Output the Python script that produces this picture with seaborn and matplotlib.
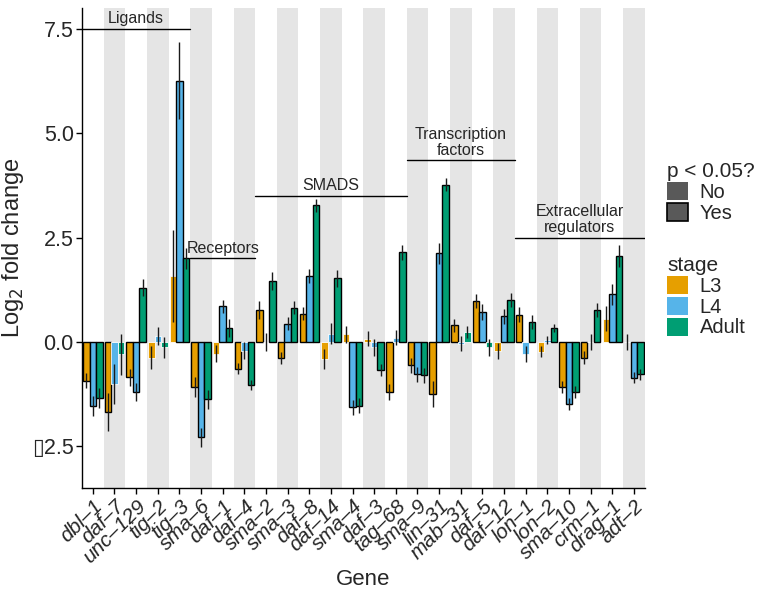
"""
Log2 fold change of TGF-beta pathway genes by stage
"""
from matplotlib import pyplot as plt
from matplotlib.patches import Patch
import pandas as pd
import numpy as np
import seaborn as sns

genes = ['dbl-1', 'daf-7', 'unc-129', 'tig-2', 'tig-3', 'sma-6', 'daf-1', 'daf-4',
         'sma-2', 'sma-3', 'daf-8', 'daf-14', 'sma-4', 'daf-3', 'tag-68', 'sma-9',
         'lin-31', 'mab-31', 'daf-5', 'daf-12', 'lon-1', 'lon-2', 'sma-10', 'crm-1',
         'drag-1', 'adt-2']
gene_labels = [g.replace('-', '\u2013') for g in genes]
stages = ['L3', 'L4', 'Adult']

l3_lfc = [-0.93, -1.68, -0.85, -0.38, 1.57, -1.08, -0.28, -0.64, 0.76, -0.38, 0.68, -0.42, 0.18,
          0.08, -1.20, -0.56, -1.25, 0.40, 0.98, -0.21, 0.65, -0.24, -1.08, -0.38, 0.56, 0.0]
l3_se = [0.18, 0.45, 0.20, 0.27, 1.10, 0.24, 0.20, 0.13, 0.21, 0.14, 0.16, 0.24, 0.20,
         0.17, 0.19, 0.18, 0.31, 0.16, 0.17, 0.19, 0.18, 0.13, 0.14, 0.16, 0.30, 0.20]
l3_sig = [1, 1, 1, 0, 0, 1, 0, 1, 1, 1, 1, 0, 0, 0, 1, 1, 1, 1, 1, 0, 1, 0, 1, 1, 0, 0]

l4_lfc = [-1.53, -1.01, -1.20, 0.14, 6.26, -2.29, 0.85, -0.21, 0.0, 0.44, 1.58, 0.20, -1.57,
          -0.13, 0.10, -0.77, 2.12, -0.05, 0.72, 0.61, -0.29, 0.05, -1.49, 0.0, 1.14, -0.86]
l4_se = [0.24, 0.48, 0.22, 0.22, 0.92, 0.23, 0.16, 0.20, 0.22, 0.15, 0.16, 0.25, 0.18,
         0.20, 0.18, 0.18, 0.25, 0.18, 0.19, 0.18, 0.20, 0.10, 0.14, 0.20, 0.25, 0.13]
l4_sig = [1, 0, 1, 0, 1, 1, 1, 0, 0, 1, 1, 0, 1, 0, 0, 1, 1, 0, 1, 1, 0, 0, 1, 0, 1, 1]

adult_lfc = [-1.34, -0.30, 1.30, -0.13, 2.00, -1.38, 0.34, -1.04, 1.46, 0.82, 3.27, 1.52, -1.53,
             -0.68, 2.15, -0.80, 3.77, 0.24, -0.13, 1.00, 0.48, 0.33, -1.20, 0.76, 2.05, -0.78]
adult_se = [0.24, 0.50, 0.21, 0.25, 0.26, 0.22, 0.22, 0.12, 0.22, 0.16, 0.15, 0.20, 0.18,
            0.14, 0.18, 0.18, 0.16, 0.14, 0.20, 0.17, 0.16, 0.10, 0.14, 0.17, 0.26, 0.14]
adult_sig = [1, 0, 1, 0, 1, 1, 1, 1, 1, 1, 1, 1, 1, 1, 1, 1, 1, 0, 0, 1, 1, 1, 1, 1, 1, 1]

# gene groups: label, first gene, last gene, line height
groups = [('Ligands', 'dbl-1', 'tig-3', 7.5),
          ('Receptors', 'sma-6', 'daf-4', 2.0),
          ('SMADS', 'sma-2', 'tag-68', 3.5),
          ('Transcription\nfactors', 'sma-9', 'daf-12', 4.35),
          ('Extracellular\nregulators', 'lon-1', 'adt-2', 2.5)]

palette = {'L3': '#E69F00', 'L4': '#56B4E9', 'Adult': '#009E73'}

df = pd.DataFrame({
    'gene': genes * 3,
    'stage': np.repeat(stages, len(genes)),
    'lfc': l3_lfc + l4_lfc + adult_lfc,
    'se': l3_se + l4_se + adult_se,
    'sig': l3_sig + l4_sig + adult_sig,
})

sns.set_style('ticks')
plt.rcParams['font.family'] = ['Liberation Sans', 'DejaVu Sans']

fig = plt.figure(figsize=(7.63, 5.94), dpi=100)
ax = fig.add_axes([0.1075, 0.1785, 0.7375, 0.808])

# alternating grey stripes
for i in range(len(genes)):
    if i % 2 == 1:
        ax.axvspan(i - 0.5, i + 0.5, color='#E5E5E5', lw=0, zorder=0)

sns.barplot(data=df, x='gene', y='lfc', hue='stage', hue_order=stages, order=genes,
            palette=palette, saturation=1, width=0.9, errorbar=None, legend=False, ax=ax)

for cont, st in zip(ax.containers, stages):
    sub = df[df['stage'] == st].set_index('gene').loc[genes]
    xs = []
    for bar, sig in zip(cont, sub['sig']):
        if sig:
            bar.set_edgecolor('black')
            bar.set_linewidth(1.0)
        else:
            bar.set_edgecolor('white')
            bar.set_linewidth(0.6)
        bar.set_zorder(2)
        xs.append(bar.get_x() + bar.get_width() / 2)
    xs = np.array(xs)
    ax.vlines(xs, sub['lfc'] - sub['se'], sub['lfc'] + sub['se'],
              color='#1a1a1a', lw=1.0, zorder=3)

# group annotations
for label, g0, g1, h in groups:
    x0 = genes.index(g0) - 0.5
    x1 = genes.index(g1) + 0.5
    ax.plot([x0, x1], [h, h], color='black', lw=1.0, zorder=4)
    ax.text((x0 + x1) / 2, h + 0.06, label, ha='center', va='bottom',
            fontsize=11.5, linespacing=1.1, zorder=4)

ax.set_xlim(-0.5, len(genes) - 0.5)
ax.set_ylim(-3.5, 8.0)
ax.set_yticks([-2.5, 0.0, 2.5, 5.0, 7.5])
ax.set_yticklabels(['\u25af2.5', '0.0', '2.5', '5.0', '7.5'], fontsize=15.5)
ax.set_xticks(range(len(genes)))
ax.set_xticklabels(gene_labels, rotation=45, ha='right', rotation_mode='anchor',
                   fontsize=15, style='italic')
ax.tick_params(axis='both', length=4, width=1, color='black', pad=2)
ax.set_xlabel('Gene', fontsize=16, labelpad=2)
ax.set_ylabel(r'Log$_2$ fold change', fontsize=17)
sns.despine(ax=ax)
for side in ['left', 'bottom']:
    ax.spines[side].set_linewidth(1.0)
    ax.spines[side].set_color('black')

# legends
sig_handles = [Patch(facecolor='#595959', edgecolor='none', label='No'),
               Patch(facecolor='#595959', edgecolor='black', lw=1.2, label='Yes')]
fig.legend(handles=sig_handles, title='p < 0.05?', loc='upper left',
           bbox_to_anchor=(0.851, 0.757), frameon=False, fontsize=14.5,
           title_fontsize=15, handlelength=1.0, handleheight=1.0,
           handletextpad=0.6, labelspacing=0.05, alignment='left')
stage_handles = [Patch(facecolor=palette[s], edgecolor='none', label=s) for s in stages]
fig.legend(handles=stage_handles, title='stage', loc='upper left',
           bbox_to_anchor=(0.851, 0.6), frameon=False, fontsize=14.5,
           title_fontsize=15, handlelength=1.0, handleheight=1.0,
           handletextpad=0.6, labelspacing=0.05, alignment='left')

plt.savefig('out.png', dpi=100)
